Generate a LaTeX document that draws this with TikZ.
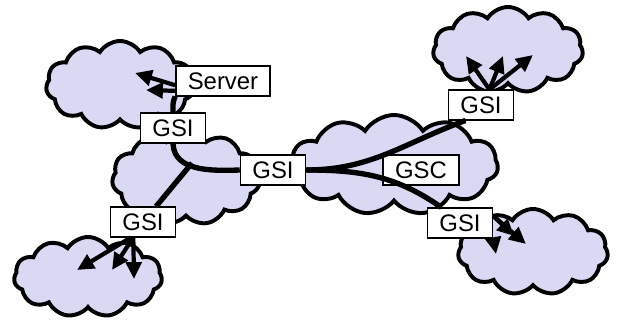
\documentclass[tikz,border=0pt]{standalone}
\usepackage{fontspec}
\setmainfont{Liberation Sans}
\usepackage{tikz}
\usetikzlibrary{positioning}
\usetikzlibrary{shapes,shapes.symbols,arrows.meta}
\definecolor{netblue}{RGB}{217,217,244}
\tikzstyle{net} = [cloud, draw, fill=netblue, line width=2.8pt, cloud puffs=11,
cloud puff arc=115, cloud ignores aspect, inner sep=0pt]
\tikzstyle{tag} = [rectangle, draw, fill=white, line width=1pt, inner xsep=8.5pt,
minimum height=0.74cm, font=\fontsize{17}{20}\selectfont]
\tikzstyle{link} = [draw, line width=3.8pt]
\tikzstyle{line} = [draw, line width=3pt, -{Triangle[length=12pt,width=11pt]}]

\begin{document}
\begin{tikzpicture}[x=0.025cm, y=-0.025cm]
    \useasboundingbox (0,0) rectangle (619,320);
    % clouds
   \node [net, minimum width=3.7cm, minimum height=2.2cm] (srvnet) at (120,85) {};
   \node [net, minimum width=3.7cm, minimum height=2.35cm] (leftnet) at (186,178) {};
   \node [net, minimum width=3.7cm, minimum height=2.0cm] (lownet) at (88,277) {};
   \node [net, minimum width=5.2cm, minimum height=2.5cm] (corenet) at (394,165) {};
   \node [net, minimum width=3.75cm, minimum height=2.15cm] (topnet) at (508,50) {};
   \node [net, minimum width=3.75cm, minimum height=2.15cm] (rightnet) at (533,252) {};
    % boxes
   \node [tag] (srv) at (223,81) {Server};
   \node [tag] (gsia) at (173,128) {GSI};
   \node [tag] (gsib) at (273,170) {GSI};
   \node [tag] (gsic) at (143,222) {GSI};
   \node [tag] (gsid) at (481,105) {GSI};
   \node [tag] (gsc) at (421,170) {GSC};
   \node [tag] (gsie) at (460,223) {GSI};
    % arrow ends
   \coordinate (jl) at (192,163);
   \coordinate (s1) at (135,73);
   \coordinate (s2) at (146,90);
   \coordinate (b1) at (77,270);
   \coordinate (b2) at (112,270);
   \coordinate (b3) at (134,279);
   \coordinate (t1) at (466,56);
   \coordinate (t2) at (503,56);
   \coordinate (t3) at (533,55);
   \coordinate (r1) at (526,244);
   \coordinate (r2) at (514,236);
   \coordinate (r3) at (496,254);

    % edges
          \draw [link] (gsia.south) to[out=-88, in=182] (gsib.west);
          \draw [link] (jl) -- (gsic.50);
          \draw [link] (gsia.north) to[out=90, in=-115] (srv.south west);
          \draw [link] (gsib.east) to[out=0, in=200] (gsid.225);
          \draw [link] (gsib.east) to[out=0, in=145] (gsie.140);
          \path [line] ([yshift=-3pt]srv.west) -- (s1);
          \path [line] ([yshift=-7pt]srv.west) -- (s2);
          \path [line] (gsic.232) -- (b1);
          \path [line] (gsic.238) -- (b2);
          \path [line] (gsic.238) -- (b3);
          \path [line] ([xshift=6pt]gsid.north) -- (t1);
          \path [line] ([xshift=6pt]gsid.north) -- (t2);
          \path [line] ([xshift=6pt]gsid.north) -- (t3);
          \path [line] ([yshift=5pt]gsie.east) -- (r1);
          \path [line] ([yshift=5pt]gsie.east) -- (r2);
          \path [line] (gsie.south east) -- (r3);

  \end{tikzpicture}
\end{document}
